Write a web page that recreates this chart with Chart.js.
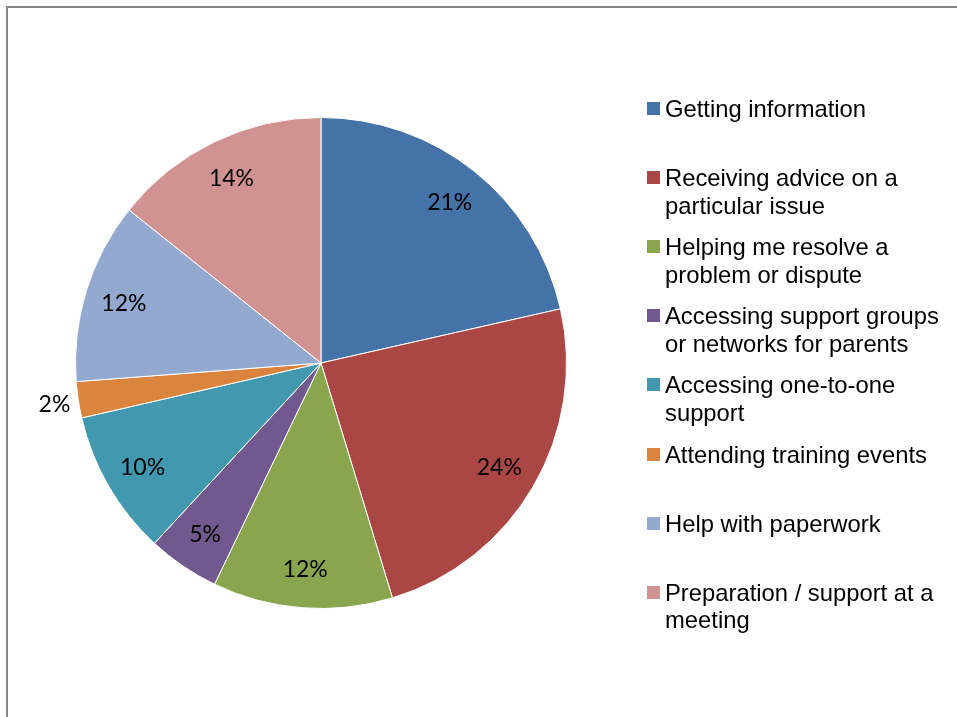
<!DOCTYPE html>
<html>
<head>
<meta charset="utf-8">
<script src="https://cdn.jsdelivr.net/npm/chart.js@4.4.1/dist/chart.umd.min.js"></script>
<style>
  html, body { margin: 0; padding: 0; background: #fff; overflow: hidden; }
  #wrap { position: relative; width: 957px; height: 717px; }
  #frame {
    position: absolute; left: 6px; top: 6px; width: 1100px; height: 900px;
    border-top: 2px solid #858585; border-left: 2px solid #858585;
  }
  #grafico { position: absolute; left: 0; top: 0; }
  .leg-item { position: absolute; left: 647px; font-family: "Liberation Sans", Arial, sans-serif; font-size: 23.8px; line-height: 27.5px; color: #000; }
  .leg-box { position: absolute; left: 0; top: 7px; width: 13px; height: 13px; }
  .leg-text { position: absolute; left: 18px; top: 0; white-space: nowrap; }
</style>
</head>
<body>
<div id="wrap">
  <div id="frame"></div>
  <canvas id="grafico" width="957" height="717"></canvas>
  <div id="legenda"></div>
</div>
<script>
// categorias (quebras de linha como na legenda original)
const categorias = [
  ["Getting information"],
  ["Receiving advice on a", "particular issue"],
  ["Helping me resolve a", "problem or dispute"],
  ["Accessing support groups", "or networks for parents"],
  ["Accessing one-to-one", "support"],
  ["Attending training events"],
  ["Help with paperwork"],
  ["Preparation / support at a", "meeting"]
];
// percentuais de cada fatia
const valores = [21.46, 23.84, 11.84, 4.73, 9.54, 2.38, 11.92, 14.29];
const cores = ["#4572A7", "#AA4643", "#89A54E", "#71588F", "#4198AF", "#DB843D", "#93A9CF", "#D19392"];

// rótulos de porcentagem desenhados sobre as fatias
const rotulosPlugin = {
  id: "rotulos",
  afterDatasetsDraw(chart) {
    const c = chart.ctx;
    const meta = chart.getDatasetMeta(0);
    c.save();
    c.font = "23px Lato, 'Open Sans', sans-serif";
    c.fillStyle = "#000";
    c.textAlign = "center";
    c.textBaseline = "middle";
    meta.data.forEach((arc, i) => {
      const p = arc.getProps(["x", "y", "startAngle", "endAngle", "outerRadius"], true);
      const meio = (p.startAngle + p.endAngle) / 2;
      const fora = valores[i] < 3;
      const r = fora ? p.outerRadius * 1.098 : p.outerRadius * 0.84;
      c.fillText(Math.round(valores[i]) + "%", p.x + Math.cos(meio) * r, p.y + Math.sin(meio) * r + 1);
    });
    c.restore();
  }
};

const ctx = document.getElementById("grafico").getContext("2d");
new Chart(ctx, {
  type: "pie",
  data: {
    labels: categorias,
    datasets: [{
      data: valores,
      backgroundColor: cores,
      borderColor: "#ffffff",
      borderWidth: 1
    }]
  },
  options: {
    responsive: false,
    animation: false,
    layout: { padding: { left: 75, right: 390, top: 117, bottom: 108 } },
    plugins: {
      legend: { display: false },
      tooltip: { enabled: false }
    }
  },
  plugins: [rotulosPlugin]
});

// legenda em HTML
const legenda = document.getElementById("legenda");
categorias.forEach((linhas, i) => {
  const item = document.createElement("div");
  item.className = "leg-item";
  item.style.top = (95 + i * 69.1) + "px";
  const box = document.createElement("div");
  box.className = "leg-box";
  box.style.background = cores[i];
  const txt = document.createElement("div");
  txt.className = "leg-text";
  txt.innerHTML = linhas.join("<br>");
  item.appendChild(box);
  item.appendChild(txt);
  legenda.appendChild(item);
});
</script>
</body>
</html>
